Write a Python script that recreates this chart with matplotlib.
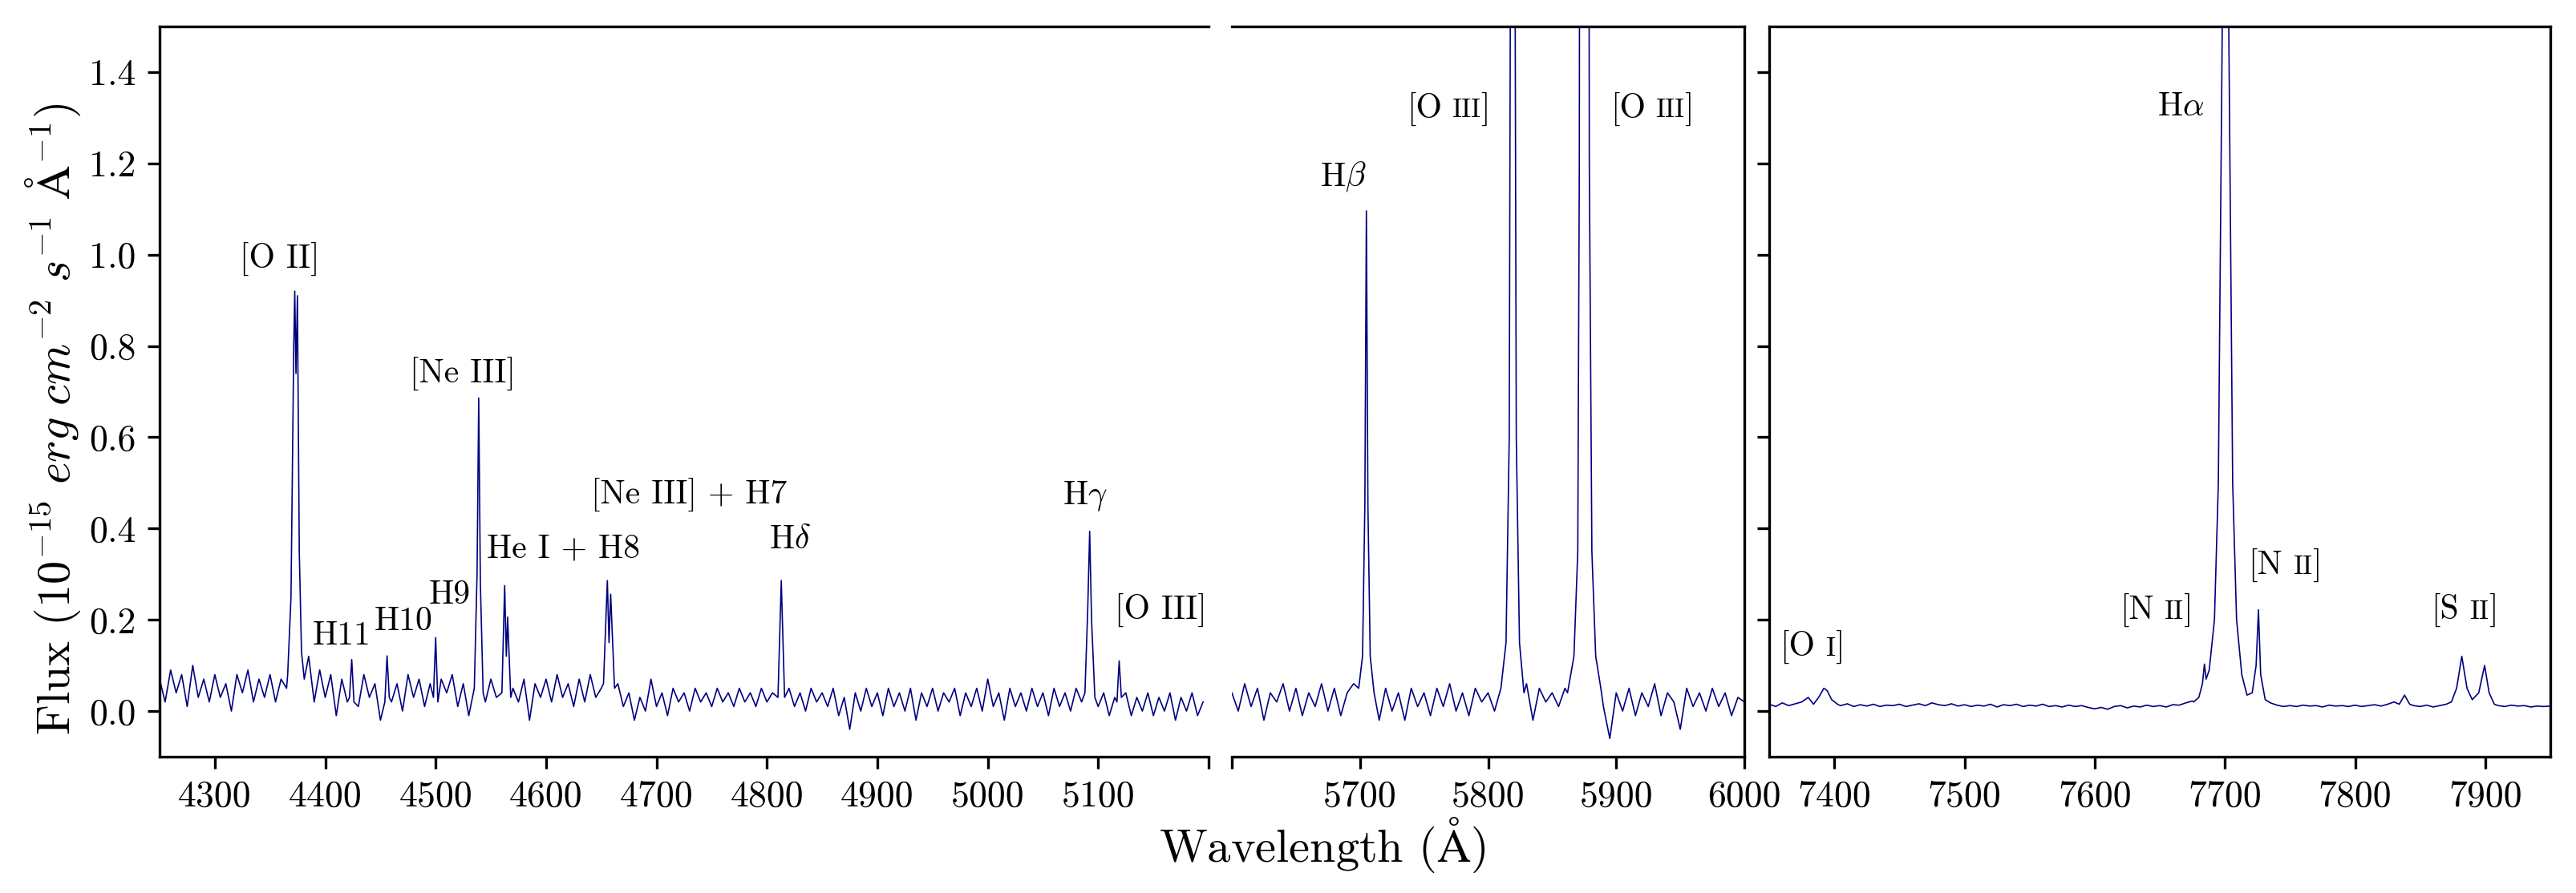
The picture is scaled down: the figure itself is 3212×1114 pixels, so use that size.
import numpy as np
import matplotlib.pyplot as plt
from matplotlib.offsetbox import TextArea, HPacker, AnnotationBbox

plt.rcParams['font.family'] = 'serif'
plt.rcParams['font.serif'] = ['cmr10']
plt.rcParams['mathtext.fontset'] = 'cm'
plt.rcParams['axes.formatter.use_mathtext'] = True
plt.rcParams['axes.unicode_minus'] = False

# ---- blue arm (4250-5200 A) ----
blue_wave = np.arange(4250, 5200, 5)
blue_flux = [
    0.07, 0.02, 0.09, 0.04, 0.08, 0.01, 0.10, 0.03, 0.07, 0.02,
    0.08, 0.03, 0.06, 0.00, 0.08, 0.04, 0.09, 0.02, 0.07, 0.03,
    0.08, 0.02, 0.07, 0.05, 0.06, 0.05, 0.04, 0.12, 0.02, 0.09,
    0.03, 0.08, -0.01, 0.07, 0.02, 0.06, 0.01, 0.08, 0.03, 0.06,
    -0.02, 0.07, 0.02, 0.06, 0.00, 0.08, 0.03, 0.07, 0.01, 0.06,
    0.02, 0.07, 0.04, 0.08, 0.01, 0.06, -0.01, 0.05, 0.03, 0.02,
    0.07, 0.03, 0.06, 0.01, 0.05, 0.02, 0.07, -0.02, 0.06, 0.03,
    0.07, 0.02, 0.08, 0.03, 0.06, 0.01, 0.07, 0.02, 0.08, 0.03,
    0.05, 0.03, 0.05, 0.06, 0.01, 0.04, -0.02, 0.03, 0.00, 0.07,
    0.01, 0.04, -0.01, 0.05, 0.02, 0.04, 0.00, 0.05, 0.02, 0.04,
    0.01, 0.05, 0.02, 0.04, 0.01, 0.05, 0.02, 0.04, 0.01, 0.05,
    0.02, 0.04, 0.01, 0.03, 0.05, 0.01, 0.04, 0.00, 0.05, 0.02,
    0.04, 0.01, 0.05, -0.01, 0.03, -0.04, 0.04, 0.00, 0.05, 0.01,
    0.04, -0.01, 0.05, 0.01, 0.04, 0.00, 0.05, -0.02, 0.04, 0.01,
    0.05, 0.00, 0.04, 0.02, 0.05, -0.01, 0.04, 0.01, 0.05, 0.00,
    0.07, 0.01, 0.04, -0.02, 0.05, 0.01, 0.04, 0.00, 0.05, 0.01,
    0.04, -0.01, 0.05, 0.01, 0.04, 0.00, 0.05, 0.02, 0.03, 0.02,
    0.01, 0.04, -0.01, 0.03, 0.00, 0.04, -0.01, 0.03, 0.00, 0.04,
    -0.01, 0.03, 0.00, 0.04, -0.02, 0.03, 0.00, 0.04, -0.01, 0.02,
]
blue_line_wave = [4366, 4369, 4371.5, 4372.4, 4373.5, 4374.8, 4376.5, 4378.5, 4381,
                  4422, 4424, 4426,
                  4454, 4456, 4458,
                  4498, 4500, 4502,
                  4535, 4537.5, 4539, 4540.5, 4543,
                  4560, 4562.5, 4564, 4565.2, 4568,
                  4652, 4655.5, 4657, 4658.5, 4662,
                  4810, 4813, 4816,
                  5088, 5090.5, 5092.3, 5094, 5097,
                  5117, 5119, 5121]
blue_line_flux = [0.08, 0.25, 0.80, 0.92, 0.74, 0.91, 0.35, 0.13, 0.07,
                  0.03, 0.113, 0.02,
                  0.02, 0.121, 0.03,
                  0.03, 0.161, 0.02,
                  0.05, 0.30, 0.686, 0.28, 0.04,
                  0.04, 0.275, 0.12, 0.206, 0.03,
                  0.06, 0.286, 0.15, 0.256, 0.05,
                  0.03, 0.286, 0.03,
                  0.04, 0.22, 0.394, 0.20, 0.03,
                  0.02, 0.11, 0.03]
blue_spans = [(4366, 4381), (4422, 4426), (4454, 4458), (4498, 4502), (4535, 4543),
              (4560, 4568), (4652, 4662), (4810, 4816), (5088, 5097), (5117, 5121)]
blue_labels = ['[O II]', 'H11', 'H10', 'H9', '[Ne III]', 'He I + H8',
               '[Ne III] + H7', r'H$\delta$', r'H$\gamma$', '[O III]']
blue_label_x = [4358.5, 4415, 4471, 4513, 4524.5, 4615.6, 4729.6, 4821, 5088, 5157]
blue_label_y = [0.99, 0.165, 0.196, 0.255, 0.739, 0.355, 0.474, 0.376, 0.471, 0.222]
blue_ticks = [4300, 4400, 4500, 4600, 4700, 4800, 4900, 5000, 5100, 5200]
blue_ticklabels = ['4300', '4400', '4500', '4600', '4700', '4800', '4900', '5000', '5100', '']

# ---- green arm (5600-6000 A) ----
green_wave = np.arange(5600, 6005, 5)
green_flux = [
    0.04, 0.00, 0.06, 0.01, 0.05, -0.02, 0.04, 0.02, 0.06, 0.00,
    0.05, -0.01, 0.04, 0.01, 0.06, 0.00, 0.05, -0.01, 0.04, 0.06,
    0.05, 0.03, 0.03, -0.02, 0.05, 0.00, 0.04, -0.02, 0.05, 0.01,
    0.04, -0.01, 0.05, 0.01, 0.06, 0.00, 0.04, -0.01, 0.05, 0.02,
    0.04, 0.00, 0.03, 0.03, 0.03, 0.03, 0.06, -0.02, 0.05, 0.02,
    0.04, 0.01, 0.05, 0.03, 0.03, 0.03, 0.03, 0.03, 0.01, -0.06,
    0.04, 0.00, 0.05, -0.01, 0.04, 0.01, 0.06, -0.01, 0.04, 0.02,
    -0.04, 0.05, 0.01, 0.04, 0.00, 0.05, 0.01, 0.04, -0.01, 0.03,
    0.02,
]
green_line_wave = [5699, 5702, 5703.8, 5705, 5706.2, 5708, 5711,
                   5810, 5814, 5816.5, 5819.2, 5822, 5824.5, 5828,
                   5862, 5867, 5870, 5871.2, 5874.8, 5879, 5881, 5884, 5888]
green_line_flux = [0.05, 0.12, 0.45, 1.096, 0.45, 0.12, 0.04,
                   0.05, 0.15, 0.6, 3.6, 0.6, 0.15, 0.04,
                   0.04, 0.12, 0.35, 1.2, 10.8, 1.2, 0.35, 0.12, 0.05]
green_spans = [(5699, 5711), (5810, 5828), (5862, 5888)]
green_labels = [r'H$\beta$', '[O III]', '[O III]']
green_label_x = [5687, 5769, 5928]
green_label_y = [1.17, 1.32, 1.32]
green_ticks = [5600, 5700, 5800, 5900, 6000]
green_ticklabels = ['', '5700', '5800', '5900', '6000']

# ---- red arm (7350-7950 A) ----
red_wave = np.arange(7350, 7955, 5)
red_flux = [
    0.015, 0.010, 0.018, 0.012, 0.016, 0.020, 0.030, 0.045, 0.040, 0.025,
    0.018, 0.012, 0.016, 0.010, 0.014, 0.011, 0.015, 0.010, 0.013, 0.012,
    0.015, 0.010, 0.013, 0.016, 0.012, 0.018, 0.014, 0.012, 0.016, 0.011,
    0.014, 0.010, 0.013, 0.011, 0.015, 0.009, 0.014, 0.012, 0.015, 0.010,
    0.013, 0.011, 0.015, 0.010, 0.012, 0.009, 0.013, 0.010, 0.012, 0.008,
    0.005, 0.008, 0.004, 0.010, 0.012, 0.007, 0.011, 0.009, 0.013, 0.010,
    0.012, 0.009, 0.014, 0.013, 0.018, 0.022, 0.030, 0.030, 0.030, 0.030,
    0.030, 0.030, 0.030, 0.030, 0.030, 0.030, 0.030, 0.012, 0.013, 0.010,
    0.012, 0.010, 0.013, 0.011, 0.012, 0.009, 0.013, 0.011, 0.012, 0.010,
    0.013, 0.010, 0.012, 0.014, 0.011, 0.015, 0.020, 0.030, 0.018, 0.012,
    0.010, 0.013, 0.009, 0.012, 0.015, 0.020, 0.030, 0.030, 0.030, 0.030,
    0.030, 0.015, 0.012, 0.010, 0.013, 0.011, 0.012, 0.009, 0.011, 0.010,
    0.011,
]
red_line_wave = [7384, 7388, 7392, 7394.5, 7398, 7403,
                 7676, 7680, 7682.8, 7684.3, 7685.6, 7688, 7692, 7695, 7698, 7700.6,
                 7703, 7706, 7709, 7713, 7717, 7721, 7724, 7725.8, 7727.5, 7731, 7735,
                 7834, 7838, 7842,
                 7874, 7878, 7882, 7886, 7890, 7895, 7899.5, 7903, 7907]
red_line_flux = [0.015, 0.03, 0.05, 0.045, 0.025, 0.014,
                 0.02, 0.03, 0.06, 0.103, 0.07, 0.09, 0.2, 0.5, 1.5, 3.6,
                 1.5, 0.5, 0.2, 0.08, 0.035, 0.04, 0.10, 0.222, 0.08, 0.025, 0.018,
                 0.015, 0.035, 0.015,
                 0.02, 0.05, 0.12, 0.05, 0.025, 0.04, 0.10, 0.04, 0.015]
red_spans = [(7384, 7403), (7676, 7735), (7834, 7842), (7874, 7907)]
red_labels = ['[O I]', '[N II]', r'H$\alpha$', '[N II]', '[S II]']
red_label_x = [7383, 7647, 7666, 7746, 7884]
red_label_y = [0.14, 0.221, 1.324, 0.32, 0.221]
red_ticks = [7400, 7500, 7600, 7700, 7800, 7900]
red_ticklabels = ['7400', '7500', '7600', '7700', '7800', '7900']

y_ticks = [0.0, 0.2, 0.4, 0.6, 0.8, 1.0, 1.2, 1.4]
y_ticklabels = ['0.0', '0.2', '0.4', '0.6', '0.8', '1.0', '1.2', '1.4']


def merge(cont_w, cont_f, line_w, line_f, spans):
    # put the line profile points in place of the continuum samples they cover
    cont_w = np.asarray(cont_w, float)
    cont_f = np.asarray(cont_f, float)
    keep = np.ones(len(cont_w), bool)
    for a, b in spans:
        keep &= ~((cont_w >= a) & (cont_w <= b))
    w = np.concatenate([cont_w[keep], line_w])
    f = np.concatenate([cont_f[keep], line_f])
    order = np.argsort(w)
    return w[order], f[order]


def smallcaps_label(ax, text, x, y):
    # "[O III]" -> "[O" + small "III" + "]"
    head, num = text.split(' ')
    num = num.rstrip(']')
    inner = HPacker(children=[TextArea(num, textprops=dict(fontsize=8)),
                              TextArea(']', textprops=dict(fontsize=10))],
                    align='baseline', pad=0, sep=0)
    box = HPacker(children=[TextArea(head, textprops=dict(fontsize=10)), inner],
                  align='baseline', pad=0, sep=3)
    ab = AnnotationBbox(box, (x, y), xycoords='data', frameon=False,
                        box_alignment=(0.5, 0.5), pad=0, annotation_clip=False)
    ax.add_artist(ab)


W, H = 3212, 1114
fig = plt.figure(figsize=(W / 300, H / 300), dpi=300)
bot = (H - 944) / H
hgt = (944 - 33) / H
ax1 = fig.add_axes([199 / W, bot, (1507 - 199) / W, hgt])
ax2 = fig.add_axes([1536 / W, bot, (2175 - 1536) / W, hgt])
ax3 = fig.add_axes([2206 / W, bot, (3180 - 2206) / W, hgt])

col = '#000080'
panels = [
    (ax1, blue_wave, blue_flux, blue_line_wave, blue_line_flux, blue_spans, (4250, 5200),
     blue_ticks, blue_ticklabels, blue_labels, blue_label_x, blue_label_y, False),
    (ax2, green_wave, green_flux, green_line_wave, green_line_flux, green_spans, (5600, 6000),
     green_ticks, green_ticklabels, green_labels, green_label_x, green_label_y, True),
    (ax3, red_wave, red_flux, red_line_wave, red_line_flux, red_spans, (7350, 7950),
     red_ticks, red_ticklabels, red_labels, red_label_x, red_label_y, True),
]

for ax, cw, cf, lw_, lf, spans, xl, xt, xtl, labs, lx, ly, sc in panels:
    w, f = merge(cw, cf, lw_, lf, spans)
    ax.plot(w, f, color=col, lw=0.4)
    ax.set_xlim(*xl)
    ax.set_ylim(-0.1, 1.5)
    ax.set_xticks(xt, xtl)
    ax.set_yticks(y_ticks, y_ticklabels)
    ax.tick_params(labelsize=11)
    for t, x, y in zip(labs, lx, ly):
        if sc and t.startswith('['):
            smallcaps_label(ax, t, x, y)
        else:
            ax.text(x, y, t, fontsize=10, ha='center', va='center')

ax1.spines['right'].set_visible(False)
ax2.spines['left'].set_visible(False)
ax2.tick_params(left=False, labelleft=False)
ax3.tick_params(labelleft=False)

fig.text(1649 / W, 0.053, r'Wavelength ($\mathrm{\AA}$)', fontsize=14, ha='center', va='center')
fig.text(66 / W, 0.531, r'Flux ($10^{-15}\ erg\ cm^{-2}\ s^{-1}\ \mathrm{\AA}^{-1}$)',
         fontsize=14, rotation=90, ha='center', va='center')

fig.savefig('out.png', dpi=300)
